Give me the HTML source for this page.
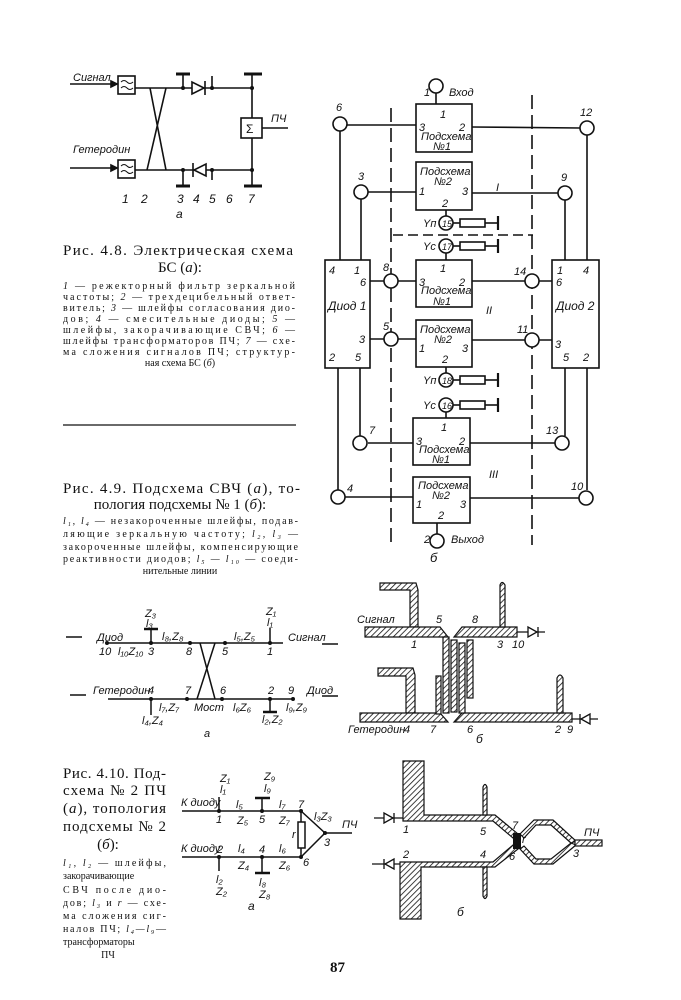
<!DOCTYPE html>
<html><head><meta charset="utf-8"><style>
html,body{margin:0;padding:0;background:#fff}
svg{display:block}
.i{font-family:"Liberation Sans",sans-serif;font-style:italic;font-size:11px}
.c{font-family:"Liberation Serif",serif;font-size:15px}
.s{font-family:"Liberation Serif",serif;font-size:10px}
</style></head><body>
<svg width="681" height="1000" viewBox="0 0 681 1000" xmlns="http://www.w3.org/2000/svg">
<defs>
<pattern id="h" width="4" height="4" patternUnits="userSpaceOnUse" patternTransform="rotate(45)">
<rect width="4" height="4" fill="#fff"/><line x1="0" y1="0" x2="0" y2="4" stroke="#111" stroke-width="1.6"/></pattern>
</defs>
<rect width="681" height="1000" fill="#fff"/>
<g stroke="#111" stroke-width="1.6" fill="none">
<!-- Fig 4.8a -->
<line x1="70" y1="84" x2="117" y2="84"/><polygon points="117,84 111,81 111,87" fill="#111"/>
<rect x="118" y="76" width="17" height="18"/>
<path d="M121,82 q3,-3 6,0 t6,0 M121,88 q3,-3 6,0 t6,0" stroke-width="1"/>
<line x1="135" y1="88" x2="252" y2="88"/>
<line x1="70" y1="168" x2="117" y2="168"/><polygon points="117,168 111,165 111,171" fill="#111"/>
<rect x="118" y="160" width="17" height="18"/>
<path d="M121,166 q3,-3 6,0 t6,0 M121,172 q3,-3 6,0 t6,0" stroke-width="1"/>
<line x1="135" y1="170" x2="252" y2="170"/>
<line x1="150" y1="88" x2="166" y2="170"/><line x1="166" y1="88" x2="147" y2="170"/>
<line x1="183" y1="88" x2="183" y2="74"/><line x1="176" y1="74" x2="190" y2="74" stroke-width="3"/>
<polygon points="192,82 192,94 204,88" fill="#fff"/><line x1="205" y1="81" x2="205" y2="95"/>
<line x1="212" y1="88" x2="212" y2="76"/>
<line x1="183" y1="170" x2="183" y2="186"/><line x1="176" y1="186" x2="190" y2="186" stroke-width="3"/>
<polygon points="206,164 206,176 194,170" fill="#fff"/><line x1="193" y1="163" x2="193" y2="177"/>
<line x1="212" y1="170" x2="212" y2="180"/>
<line x1="252" y1="74" x2="252" y2="186"/>
<line x1="244" y1="74" x2="262" y2="74" stroke-width="3"/><line x1="244" y1="186" x2="262" y2="186" stroke-width="3"/>
<rect x="241" y="118" width="21" height="20" fill="#fff"/>
<line x1="262" y1="128" x2="288" y2="128"/>
</g>
<g fill="#111">
<circle cx="183" cy="88" r="2"/><circle cx="212" cy="88" r="2"/><circle cx="252" cy="88" r="2"/>
<circle cx="183" cy="170" r="2"/><circle cx="212" cy="170" r="2"/><circle cx="252" cy="170" r="2"/>
</g>
<g class="i" fill="#111">
<text x="73" y="81">Сигнал</text><text x="73" y="153">Гетеродин</text>
<text x="246" y="133" font-style="normal" font-size="12">Σ</text>
<text x="271" y="122">ПЧ</text>
<text x="122" y="203" font-size="12">1</text><text x="141" y="203" font-size="12">2</text>
<text x="177" y="203" font-size="12">3</text><text x="193" y="203" font-size="12">4</text>
<text x="209" y="203" font-size="12">5</text><text x="226" y="203" font-size="12">6</text>
<text x="248" y="203" font-size="12">7</text><text x="176" y="218" font-size="12">а</text>
</g>
<!-- Caption 4.8 -->
<g fill="#111">
<text class="c" x="63" y="255" textLength="230" lengthAdjust="spacing">Рис. 4.8. Электрическая схема</text>
<text class="c" x="180" y="272" text-anchor="middle">БС (<tspan font-style="italic">а</tspan>):</text>
<g class="s">
<text x="63" y="289" textLength="232" lengthAdjust="spacing"><tspan font-style="italic">1</tspan> — режекторный фильтр зеркальной</text>
<text x="63" y="300" textLength="232" lengthAdjust="spacing">частоты; <tspan font-style="italic">2</tspan> — трехдецибельный ответ-</text>
<text x="63" y="311" textLength="232" lengthAdjust="spacing">витель; <tspan font-style="italic">3</tspan> — шлейфы согласования дио-</text>
<text x="63" y="322" textLength="232" lengthAdjust="spacing">дов; <tspan font-style="italic">4</tspan> — смесительные диоды; <tspan font-style="italic">5</tspan> —</text>
<text x="63" y="333" textLength="232" lengthAdjust="spacing">шлейфы, закорачивающие СВЧ; <tspan font-style="italic">6</tspan> —</text>
<text x="63" y="344" textLength="232" lengthAdjust="spacing">шлейфы трансформаторов ПЧ; <tspan font-style="italic">7</tspan> — схе-</text>
<text x="63" y="355" textLength="232" lengthAdjust="spacing">ма сложения сигналов ПЧ; структур-</text>
<text x="180" y="366" text-anchor="middle">ная схема БС (<tspan font-style="italic">б</tspan>)</text>
</g>
</g>
<line x1="63" y1="425" x2="296" y2="425" stroke="#111" stroke-width="1.3"/>
<!-- Caption 4.9 -->
<g fill="#111">
<text class="c" x="63" y="493" textLength="237" lengthAdjust="spacing">Рис. 4.9. Подсхема СВЧ (<tspan font-style="italic">а</tspan>), то-</text>
<text class="c" x="180" y="509" text-anchor="middle">пология подсхемы № 1 (<tspan font-style="italic">б</tspan>):</text>
<g class="s">
<text x="63" y="524" textLength="235" lengthAdjust="spacing"><tspan font-style="italic">l₁, l₄</tspan> — незакороченные шлейфы, подав-</text>
<text x="63" y="537" textLength="235" lengthAdjust="spacing">ляющие зеркальную частоту; <tspan font-style="italic">l₂, l₃</tspan> —</text>
<text x="63" y="550" textLength="235" lengthAdjust="spacing">закороченные шлейфы, компенсирующие</text>
<text x="63" y="562" textLength="235" lengthAdjust="spacing">реактивности диодов; <tspan font-style="italic">l₅ — l₁₀</tspan> — соеди-</text>
<text x="180" y="574" text-anchor="middle">нительные линии</text>
</g>
</g>
<!-- Block diagram б -->
<g stroke="#111" stroke-width="1.6" fill="none">
<line x1="391" y1="108" x2="391" y2="545" stroke-dasharray="14,6"/>
<line x1="532" y1="95" x2="532" y2="545" stroke-dasharray="14,6"/>
<line x1="393" y1="235" x2="533" y2="235" stroke-dasharray="10,5"/>
<line x1="436" y1="93" x2="436" y2="104"/><circle cx="436" cy="86" r="7" fill="#fff"/>
<rect x="416" y="104" width="56" height="48" fill="#fff"/>
<line x1="347" y1="125" x2="416" y2="125"/><line x1="472" y1="127" x2="580" y2="128"/>
<line x1="340" y1="131" x2="340" y2="260"/><line x1="587" y1="135" x2="587" y2="260"/>
<circle cx="340" cy="124" r="7" fill="#fff"/><circle cx="587" cy="128" r="7" fill="#fff"/>
<rect x="416" y="162" width="56" height="48" fill="#fff"/>
<line x1="368" y1="192" x2="416" y2="192"/><line x1="472" y1="193" x2="558" y2="193"/>
<line x1="361" y1="199" x2="361" y2="260"/><line x1="565" y1="200" x2="565" y2="260"/>
<circle cx="361" cy="192" r="7" fill="#fff"/><circle cx="565" cy="193" r="7" fill="#fff"/>
<line x1="446" y1="210" x2="446" y2="216"/>
<circle cx="446" cy="223" r="7" fill="#fff"/><line x1="453" y1="223" x2="460" y2="223"/>
<rect x="460" y="219" width="25" height="8"/><line x1="485" y1="223" x2="498" y2="223"/><line x1="498" y1="216" x2="498" y2="230" stroke-width="2.2"/>
<circle cx="446" cy="246" r="7" fill="#fff"/><line x1="453" y1="246" x2="460" y2="246"/>
<rect x="460" y="242" width="25" height="8"/><line x1="485" y1="246" x2="498" y2="246"/><line x1="498" y1="239" x2="498" y2="253" stroke-width="2.2"/>
<line x1="446" y1="253" x2="446" y2="260"/>
<rect x="325" y="260" width="45" height="108" fill="#fff"/>
<rect x="552" y="260" width="47" height="108" fill="#fff"/>
<rect x="416" y="260" width="56" height="47" fill="#fff"/>
<line x1="370" y1="281" x2="416" y2="281"/><line x1="472" y1="281" x2="552" y2="281"/>
<circle cx="391" cy="281" r="7" fill="#fff"/><circle cx="532" cy="281" r="7" fill="#fff"/>
<rect x="416" y="320" width="56" height="47" fill="#fff"/>
<line x1="370" y1="339" x2="416" y2="339"/><line x1="472" y1="340" x2="552" y2="340"/>
<circle cx="391" cy="339" r="7" fill="#fff"/><circle cx="532" cy="340" r="7" fill="#fff"/>
<line x1="446" y1="367" x2="446" y2="373"/>
<circle cx="446" cy="380" r="7" fill="#fff"/><line x1="453" y1="380" x2="460" y2="380"/>
<rect x="460" y="376" width="25" height="8"/><line x1="485" y1="380" x2="498" y2="380"/><line x1="498" y1="373" x2="498" y2="387" stroke-width="2.2"/>
<circle cx="446" cy="405" r="7" fill="#fff"/><line x1="453" y1="405" x2="460" y2="405"/>
<rect x="460" y="401" width="25" height="8"/><line x1="485" y1="405" x2="498" y2="405"/><line x1="498" y1="398" x2="498" y2="412" stroke-width="2.2"/>
<line x1="446" y1="412" x2="446" y2="418"/>
<rect x="413" y="418" width="57" height="47" fill="#fff"/>
<line x1="338" y1="368" x2="338" y2="490"/><line x1="360" y1="368" x2="360" y2="436"/>
<line x1="565" y1="368" x2="565" y2="436"/><line x1="587" y1="368" x2="587" y2="490"/>
<line x1="368" y1="443" x2="413" y2="443"/><line x1="470" y1="443" x2="555" y2="443"/>
<circle cx="360" cy="443" r="7" fill="#fff"/><circle cx="562" cy="443" r="7" fill="#fff"/>
<rect x="413" y="477" width="57" height="46" fill="#fff"/>
<line x1="345" y1="497" x2="413" y2="497"/><line x1="470" y1="498" x2="579" y2="498"/>
<circle cx="338" cy="497" r="7" fill="#fff"/><circle cx="586" cy="498" r="7" fill="#fff"/>
<line x1="437" y1="523" x2="437" y2="534"/><circle cx="437" cy="541" r="7" fill="#fff"/>
</g>
<g class="i" fill="#111" font-size="11">
<text x="424" y="96">1</text><text x="449" y="96">Вход</text>
<text x="336" y="111">6</text><text x="580" y="116">12</text>
<text x="358" y="180">3</text><text x="561" y="181">9</text>
<text x="440" y="118">1</text><text x="419" y="131">3</text><text x="459" y="131">2</text>
<text x="421" y="140">Подсхема</text><text x="433" y="150">№1</text>
<text x="420" y="175">Подсхема</text><text x="434" y="185">№2</text>
<text x="419" y="195">1</text><text x="462" y="195">3</text><text x="442" y="207">2</text>
<text x="496" y="191">I</text>
<text x="423" y="227">Yп</text><text x="442" y="227" font-size="9">15</text>
<text x="423" y="250">Yc</text><text x="442" y="250" font-size="9">17</text>
<text x="440" y="272">1</text><text x="419" y="286">3</text><text x="459" y="286">2</text>
<text x="421" y="294">Подсхема</text><text x="433" y="305">№1</text>
<text x="383" y="271">8</text><text x="514" y="275">14</text>
<text x="329" y="274">4</text><text x="354" y="274">1</text><text x="360" y="286">6</text>
<text x="328" y="310" font-size="12">Диод 1</text>
<text x="359" y="343">3</text><text x="329" y="361">2</text><text x="355" y="361">5</text>
<text x="557" y="274">1</text><text x="583" y="274">4</text><text x="556" y="286">6</text>
<text x="556" y="310" font-size="12">Диод 2</text>
<text x="555" y="348">3</text><text x="563" y="361">5</text><text x="583" y="361">2</text>
<text x="486" y="314">II</text>
<text x="383" y="330">5</text><text x="517" y="333">11</text>
<text x="420" y="333">Подсхема</text><text x="434" y="343">№2</text>
<text x="419" y="352">1</text><text x="462" y="352">3</text><text x="442" y="363">2</text>
<text x="423" y="384">Yп</text><text x="442" y="384" font-size="9">18</text>
<text x="423" y="409">Yc</text><text x="442" y="409" font-size="9">16</text>
<text x="441" y="431">1</text><text x="416" y="445">3</text><text x="459" y="445">2</text>
<text x="419" y="453">Подсхема</text><text x="432" y="463">№1</text>
<text x="369" y="434">7</text><text x="546" y="434">13</text>
<text x="489" y="478">III</text>
<text x="347" y="492">4</text><text x="571" y="490">10</text>
<text x="418" y="489">Подсхема</text><text x="432" y="499">№2</text>
<text x="416" y="508">1</text><text x="460" y="508">3</text><text x="438" y="519">2</text>
<text x="424" y="543">2</text><text x="451" y="543">Выход</text>
<text x="430" y="562" font-size="13">б</text>
</g>
<!-- Fig 4.9a -->
<g stroke="#111" stroke-width="1.5" fill="none">
<line x1="107" y1="643" x2="283" y2="643"/><line x1="108" y1="699" x2="293" y2="699"/>
<line x1="200" y1="643" x2="215" y2="699"/><line x1="215" y1="643" x2="197" y2="699"/>
<line x1="151" y1="643" x2="151" y2="629"/><line x1="144" y1="629" x2="158" y2="629" stroke-width="2.5"/>
<line x1="270" y1="643" x2="270" y2="628"/>
<line x1="151" y1="699" x2="151" y2="715"/>
<line x1="270" y1="699" x2="270" y2="712"/><line x1="263" y1="712" x2="277" y2="712" stroke-width="2.5"/>
<line x1="66" y1="637" x2="82" y2="637"/><line x1="322" y1="644" x2="338" y2="644"/>
<line x1="70" y1="695" x2="86" y2="695"/><line x1="322" y1="696" x2="338" y2="696"/>
</g>
<g fill="#111">
<circle cx="107" cy="643" r="2"/><circle cx="151" cy="643" r="2"/><circle cx="190" cy="643" r="2"/><circle cx="225" cy="643" r="2"/><circle cx="270" cy="643" r="2"/>
<circle cx="151" cy="699" r="2"/><circle cx="187" cy="699" r="2"/><circle cx="222" cy="699" r="2"/><circle cx="270" cy="699" r="2"/><circle cx="293" cy="699" r="2"/>
</g>
<g class="i" fill="#111" font-size="10">
<text x="97" y="641">Диод</text><text x="288" y="641">Сигнал</text>
<text x="93" y="694">Гетеродин</text><text x="307" y="694">Диод</text>
<text x="145" y="617">Z₃</text><text x="146" y="627">l₃</text>
<text x="266" y="615">Z₁</text><text x="267" y="626">l₁</text>
<text x="162" y="640">l₈,Z₈</text><text x="234" y="640">l₅,Z₅</text>
<text x="99" y="655">10</text><text x="118" y="655">l₁₀Z₁₀</text><text x="148" y="655">3</text>
<text x="186" y="655">8</text><text x="222" y="655">5</text><text x="267" y="655">1</text>
<text x="148" y="694">4</text><text x="185" y="694">7</text><text x="220" y="694">6</text>
<text x="268" y="694">2</text><text x="288" y="694">9</text>
<text x="159" y="711">l₇,Z₇</text><text x="194" y="711">Мост</text><text x="233" y="711">l₆Z₆</text>
<text x="286" y="711">l₉,Z₉</text><text x="142" y="724">l₄,Z₄</text><text x="262" y="723">l₂,Z₂</text>
<text x="204" y="737">а</text>
</g>
<!-- Fig 4.9б topology -->
<g stroke="#111" stroke-width="1.2" fill="url(#h)">
<path d="M380,583 L416,583 L418,590 L418,627 L410,627 L410,590 L380,590 Z"/>
<path d="M365,627 L440,627 L448,637 L365,637 Z"/>
<path d="M454,637 L462,627 L517,627 L517,637 Z"/>
<path d="M500,627 L500,585 Q502,580 505,585 L505,627 Z"/>
<path d="M378,668 L413,668 L415,675 L415,713 L406,713 L406,676 L378,676 Z"/>
<path d="M360,713 L440,713 L448,722 L360,722 Z"/>
<path d="M454,722 L462,713 L572,713 L572,722 L454,722 Z"/>
<path d="M557,713 L557,678 Q560,672 563,678 L563,713 Z"/>
<rect x="443" y="637" width="6" height="76"/>
<rect x="451" y="640" width="6" height="72"/>
<rect x="459" y="643" width="6" height="70"/>
<rect x="467" y="640" width="6" height="58"/>
<rect x="436" y="676" width="5" height="38"/>
</g>
<g stroke="#111" stroke-width="1.3" fill="none">
<line x1="517" y1="632" x2="545" y2="632"/><polygon points="528,627 528,637 537,632" fill="#fff"/><line x1="538" y1="627" x2="538" y2="637"/>
<line x1="572" y1="719" x2="598" y2="719"/><polygon points="590,714 590,724 581,719" fill="#fff"/><line x1="580" y1="714" x2="580" y2="724"/>
</g>
<g class="i" fill="#111" font-size="10">
<text x="357" y="623">Сигнал</text><text x="436" y="623">5</text><text x="472" y="623">8</text>
<text x="411" y="648">1</text><text x="497" y="648">3</text><text x="512" y="648">10</text>
<text x="348" y="733">Гетеродин</text><text x="404" y="733">4</text><text x="430" y="733">7</text>
<text x="467" y="733">6</text><text x="555" y="733">2</text><text x="567" y="733">9</text>
<text x="476" y="743" font-size="12">б</text>
</g>
<!-- Caption 4.10 -->
<g fill="#111">
<g class="c">
<text x="63" y="778" textLength="103" lengthAdjust="spacing">Рис. 4.10. Под-</text>
<text x="63" y="795" textLength="103" lengthAdjust="spacing">схема № 2 ПЧ</text>
<text x="63" y="813" textLength="103" lengthAdjust="spacing">(<tspan font-style="italic">а</tspan>), топология</text>
<text x="63" y="831" textLength="103" lengthAdjust="spacing">подсхемы № 2</text>
<text x="108" y="849" text-anchor="middle">(<tspan font-style="italic">б</tspan>):</text>
</g>
<g class="s">
<text x="63" y="866" textLength="103" lengthAdjust="spacing"><tspan font-style="italic">l₁, l₂</tspan> — шлейфы,</text>
<text x="63" y="879">закорачивающие</text>
<text x="63" y="893" textLength="103" lengthAdjust="spacing">СВЧ после дио-</text>
<text x="63" y="906" textLength="103" lengthAdjust="spacing">дов; <tspan font-style="italic">l₃</tspan> и <tspan font-style="italic">r</tspan> — схе-</text>
<text x="63" y="919" textLength="103" lengthAdjust="spacing">ма сложения сиг-</text>
<text x="63" y="932" textLength="103" lengthAdjust="spacing">налов ПЧ; <tspan font-style="italic">l₄—l₉</tspan>—</text>
<text x="63" y="945">трансформаторы</text>
<text x="108" y="958" text-anchor="middle">ПЧ</text>
</g>
</g>
<!-- Fig 4.10a -->
<g stroke="#111" stroke-width="1.5" fill="none">
<line x1="182" y1="811" x2="301" y2="811"/><line x1="182" y1="857" x2="301" y2="857"/>
<line x1="219" y1="811" x2="219" y2="797"/>
<line x1="262" y1="811" x2="262" y2="798"/><line x1="255" y1="798" x2="270" y2="798" stroke-width="2.5"/>
<line x1="219" y1="857" x2="219" y2="871"/>
<line x1="262" y1="857" x2="262" y2="873"/><line x1="255" y1="873" x2="270" y2="873" stroke-width="2.5"/>
<line x1="301" y1="811" x2="301" y2="822"/><rect x="298" y="822" width="7" height="26"/><line x1="301" y1="848" x2="301" y2="857"/>
<polyline points="301,811 325,833 301,857"/><line x1="325" y1="833" x2="352" y2="833"/>
</g>
<g fill="#111">
<circle cx="219" cy="811" r="2"/><circle cx="262" cy="811" r="2"/><circle cx="301" cy="811" r="2"/>
<circle cx="219" cy="857" r="2"/><circle cx="262" cy="857" r="2"/><circle cx="301" cy="857" r="2"/><circle cx="325" cy="833" r="2"/>
</g>
<g class="i" fill="#111" font-size="10">
<text x="181" y="806">К диоду</text><text x="181" y="852">К диоду</text>
<text x="220" y="782">Z₁</text><text x="220" y="793">l₁</text>
<text x="264" y="780">Z₉</text><text x="264" y="792">l₉</text>
<text x="236" y="808">l₅</text><text x="279" y="808">l₇</text><text x="298" y="808">7</text>
<text x="216" y="823">1</text><text x="237" y="824">Z₅</text><text x="259" y="823">5</text><text x="279" y="824">Z₇</text>
<text x="314" y="820">l₃Z₃</text><text x="342" y="828">ПЧ</text><text x="292" y="838">r</text><text x="324" y="846">3</text>
<text x="217" y="853">2</text><text x="238" y="852">l₄</text><text x="259" y="853">4</text><text x="279" y="852">l₆</text>
<text x="238" y="869">Z₄</text><text x="279" y="869">Z₆</text><text x="303" y="866">6</text>
<text x="216" y="883">l₂</text><text x="216" y="895">Z₂</text>
<text x="259" y="886">l₈</text><text x="259" y="898">Z₈</text>
<text x="248" y="910" font-size="12">а</text>
</g>
<!-- Fig 4.10б -->
<g stroke="#111" stroke-width="1.2" fill="url(#h)">
<path d="M403,761 L424,761 L424,815 L495,815 L518,834 L513,838 L493,821 L403,821 Z"/>
<path d="M400,862 L493,862 L513,845 L518,849 L495,867 L421,867 L421,919 L400,919 Z"/>
<path d="M483,815 L483,787 Q485,782 487,787 L487,815 Z"/>
<path d="M483,867 L483,896 Q485,901 487,896 L487,867 Z"/>
<path d="M520,834 L534,820 L553,820 L576,841 L571,843 L551,825 L536,825 L524,838 Z"/>
<path d="M520,849 L534,864 L553,864 L576,845 L571,843 L551,859 L536,859 L524,846 Z"/>
<rect x="575" y="840" width="27" height="6"/>
</g>
<rect x="513" y="833" width="8" height="16" fill="#111"/>
<g stroke="#111" stroke-width="1.3" fill="none">
<line x1="374" y1="818" x2="403" y2="818"/><polygon points="384,813 384,823 393,818" fill="#fff"/><line x1="394" y1="813" x2="394" y2="823"/>
<line x1="372" y1="864" x2="400" y2="864"/><polygon points="394,859 394,869 385,864" fill="#fff"/><line x1="384" y1="859" x2="384" y2="869"/>
</g>
<g class="i" fill="#111" font-size="10">
<text x="403" y="833">1</text><text x="480" y="835">5</text><text x="512" y="829">7</text>
<text x="522" y="843">r</text><text x="584" y="836">ПЧ</text><text x="573" y="857">3</text>
<text x="403" y="858">2</text><text x="480" y="858">4</text><text x="509" y="860">6</text>
<text x="457" y="916" font-size="12">б</text>
</g>
<text x="330" y="972" font-family="Liberation Serif,serif" font-size="15" font-weight="bold" fill="#111">87</text>
</svg>
</body></html>
